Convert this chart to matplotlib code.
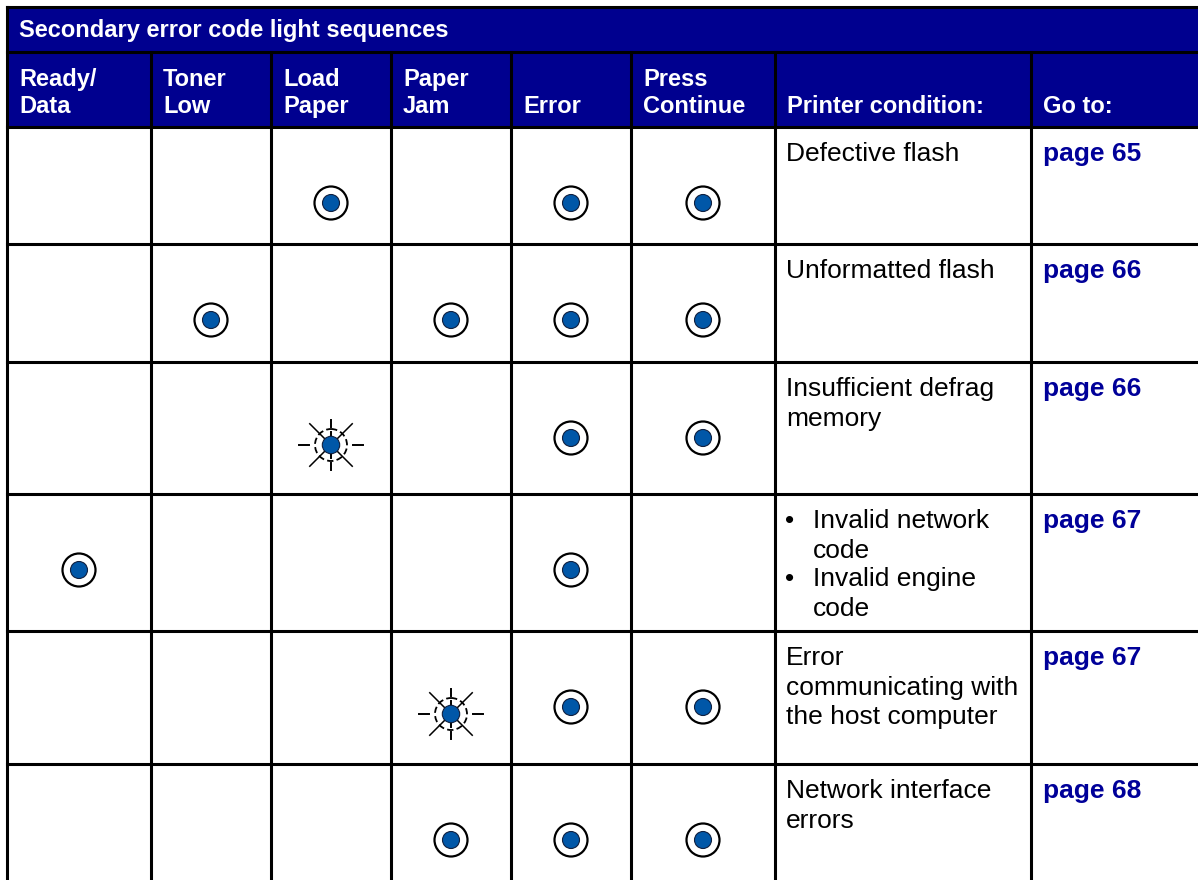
import matplotlib.pyplot as plt
from matplotlib.patches import Rectangle, Circle
import numpy as np

plt.rcParams['font.family'] = ['Liberation Sans', 'DejaVu Sans']

title = "Secondary error code light sequences"
light_names = ["Ready/\nData", "Toner\nLow", "Load\nPaper", "Paper\nJam", "Error", "Press\nContinue"]
other_heads = ["Printer condition:", "Go to:"]

# light state per row: 1 = on, 2 = blinking, 0 = off
states = [
    [0, 0, 1, 0, 1, 1],
    [0, 1, 0, 1, 1, 1],
    [0, 0, 2, 0, 1, 1],
    [1, 0, 0, 0, 1, 0],
    [0, 0, 0, 2, 1, 1],
    [0, 0, 0, 1, 1, 1],
]
conditions = [
    ["Defective flash"],
    ["Unformatted flash"],
    ["Insufficient defrag\nmemory"],
    ["Invalid network\ncode", "Invalid engine\ncode"],
    ["Error\ncommunicating with\nthe host computer"],
    ["Network interface\nerrors"],
]
pages = ["page 65", "page 66", "page 66", "page 67", "page 67", "page 68"]

# layout (pixels)
col_x = [7, 151, 271, 391, 511, 631, 775, 1031, 1210]
row_y = [127, 244, 362, 494, 631, 764, 882]
top, title_bot = 7, 52
navy = '#00008F'
blue = '#0057A8'

fig = plt.figure(figsize=(11.98, 8.8), dpi=100)
ax = fig.add_axes([0, 0, 1, 1])
ax.set_xlim(0, 1198)
ax.set_ylim(880, 0)
ax.set_aspect('equal')
ax.axis('off')

lw = 2.2
ax.add_patch(Rectangle((col_x[0], top), col_x[-1] - col_x[0], row_y[0] - top,
                       facecolor=navy, edgecolor='none'))
ax.text(19, 30, title, color='white', fontsize=17, fontweight='bold', va='center')
for i, h in enumerate(light_names + other_heads):
    ax.text(col_x[i] + 12, 113, h, color='white', fontsize=17, fontweight='bold',
            va='baseline', linespacing=1.22)

# grid
ax.plot([col_x[0], col_x[-1]], [top, top], color='black', lw=lw)
ax.plot([col_x[0], col_x[-1]], [title_bot, title_bot], color='black', lw=lw)
ax.plot([col_x[0], col_x[0]], [top, 880], color='black', lw=lw)
for x in col_x[1:-1]:
    ax.plot([x, x], [title_bot, 880], color='black', lw=lw)
for y in row_y[:-1]:
    ax.plot([col_x[0], col_x[-1]], [y, y], color='black', lw=lw)


def solid(cx, cy):
    ax.add_patch(Circle((cx, cy), 16.5, facecolor='white', edgecolor='black', lw=1.6))
    ax.add_patch(Circle((cx, cy), 8.5, facecolor=blue, edgecolor='#102040', lw=0.8))


def blink(cx, cy):
    ax.add_patch(Circle((cx, cy), 16, facecolor='none', edgecolor='black', lw=1.3,
                        linestyle=(0, (3.5, 1.8))))
    for a in [45, 135, 225, 315]:
        t = np.deg2rad(a)
        ax.plot([cx + 8 * np.cos(t), cx + 30 * np.cos(t)],
                [cy + 8 * np.sin(t), cy + 30 * np.sin(t)], color='black', lw=1.1)
    for s in [-1, 1]:
        ax.plot([cx + s * 22, cx + s * 32], [cy, cy], color='black', lw=1.4)
        ax.plot([cx, cx], [cy + s * 18, cy + s * 25], color='black', lw=1.4)
        ax.plot([cx, cx], [cy + s * 9, cy + s * 13], color='black', lw=1.4)
    ax.add_patch(Circle((cx, cy), 8.7, facecolor=blue, edgecolor='#102040', lw=0.8, zorder=3))


for r, row in enumerate(states):
    y0 = row_y[r]
    cy = y0 + 76
    for c, s in enumerate(row):
        cx = (col_x[c] + col_x[c + 1]) / 2
        if s == 1:
            solid(cx, cy)
        elif s == 2:
            blink(cx, cy + 7)
    # condition text
    lines = conditions[r]
    if len(lines) == 1:
        ax.text(col_x[6] + 11, y0 + 15, lines[0], fontsize=19, va='top', linespacing=1.3)
    else:
        yy = y0 + 15
        for item in lines:
            ax.text(col_x[6] + 10, yy, u"\u2022", fontsize=19, va='top')
            ax.text(col_x[6] + 38, yy, item, fontsize=19, va='top', linespacing=1.3)
            yy += 58
    ax.text(col_x[7] + 12, y0 + 15, pages[r], fontsize=19, va='top',
            fontweight='bold', color='#000099')

fig.savefig('out.png', dpi=100)
